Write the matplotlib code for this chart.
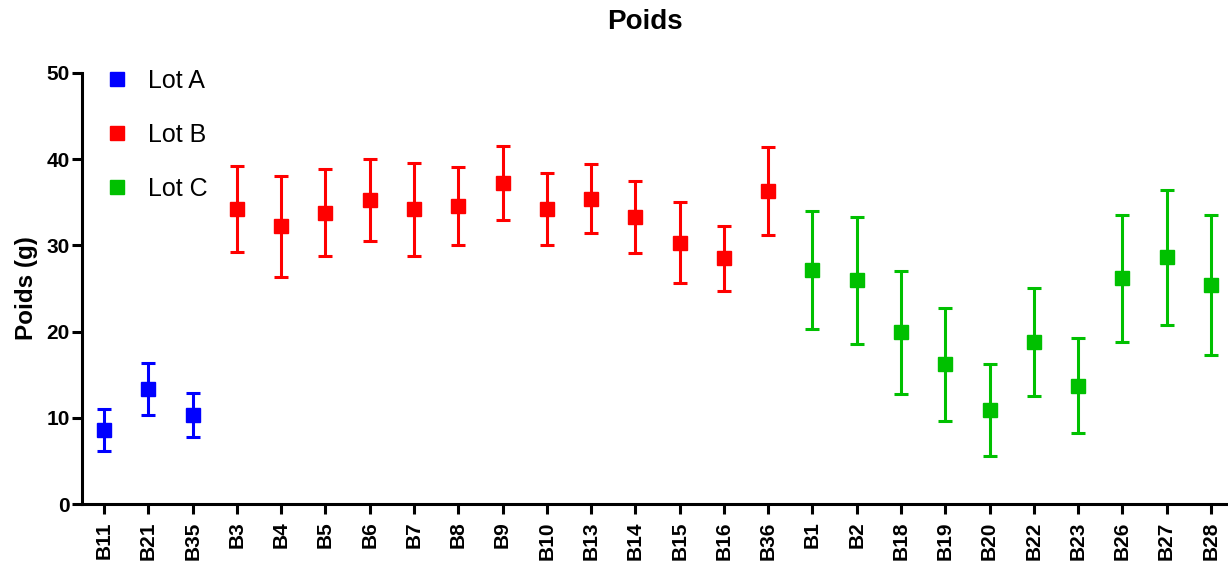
import matplotlib
matplotlib.use("Agg")
import matplotlib.pyplot as plt
from matplotlib.lines import Line2D
import numpy as np

plt.rcParams['font.family'] = ['Liberation Sans', 'DejaVu Sans']

labels_a = ["B11", "B21", "B35"]
means_a = [8.6, 13.3, 10.3]
sd_a = [2.4, 3.0, 2.55]

labels_b = ["B3", "B4", "B5", "B6", "B7", "B8", "B9", "B10", "B13", "B14", "B15", "B16", "B36"]
means_b = [34.2, 32.2, 33.8, 35.3, 34.2, 34.6, 37.2, 34.2, 35.4, 33.3, 30.3, 28.5, 36.3]
sd_b = [5.0, 5.85, 5.05, 4.75, 5.4, 4.55, 4.3, 4.15, 4.0, 4.15, 4.7, 3.8, 5.15]

labels_c = ["B1", "B2", "B18", "B19", "B20", "B22", "B23", "B26", "B27", "B28"]
means_c = [27.1, 25.95, 19.9, 16.2, 10.9, 18.8, 13.7, 26.2, 28.6, 25.4]
sd_c = [6.85, 7.35, 7.15, 6.55, 5.3, 6.25, 5.5, 7.35, 7.8, 8.15]

colors = {"Lot A": "#0000FF", "Lot B": "#FF0000", "Lot C": "#00C000"}

W, H = 1228, 567
fig = plt.figure(figsize=(W / 100, H / 100), dpi=100)
ax = fig.add_axes([82 / W, (H - 504) / H, (1233 - 82) / W, (504 - 73) / H])

all_labels = labels_a + labels_b + labels_c
groups = [("Lot A", labels_a, means_a, sd_a),
          ("Lot B", labels_b, means_b, sd_b),
          ("Lot C", labels_c, means_c, sd_c)]
start = 0
handles = []
for name, labs, m, s in groups:
    x = np.arange(start, start + len(labs))
    ax.errorbar(x, m, yerr=s, fmt='s', color=colors[name], ms=9.5,
                elinewidth=2.2, capsize=4.8, capthick=2.2, clip_on=False)
    handles.append(Line2D([], [], marker='s', color=colors[name], ls='none', ms=9.5))
    start += len(labs)

ax.set_xlim(-0.5, len(all_labels) - 0.5)
ax.set_ylim(0, 50)
ax.set_xticks(np.arange(len(all_labels)))
ax.set_xticklabels(all_labels, rotation=90, fontsize=15, fontweight='bold')
ax.set_yticks([0, 10, 20, 30, 40, 50])
ax.set_yticklabels(["0", "10", "20", "30", "40", "50"], fontsize=15, fontweight='bold')
for sp in ["top", "right"]:
    ax.spines[sp].set_visible(False)
for sp in ["left", "bottom"]:
    ax.spines[sp].set_linewidth(2.2)
ax.tick_params(axis='y', width=2.2, length=7, pad=2)
ax.tick_params(axis='x', width=2.2, length=7.5, pad=5)
ax.set_ylabel("Poids (g)", fontsize=17.5, fontweight='bold', labelpad=6)

fig.text(645 / W, 1 - 22 / H, "Poids", ha='center', va='center', fontsize=20, fontweight='bold')

leg = ax.legend(handles, ["Lot A", "Lot B", "Lot C"], loc='upper left',
                bbox_to_anchor=(0.0, 1.061), frameon=False, fontsize=18,
                handlelength=1.0, handletextpad=0.72, labelspacing=1.2)

fig.savefig("out.png", dpi=100)
